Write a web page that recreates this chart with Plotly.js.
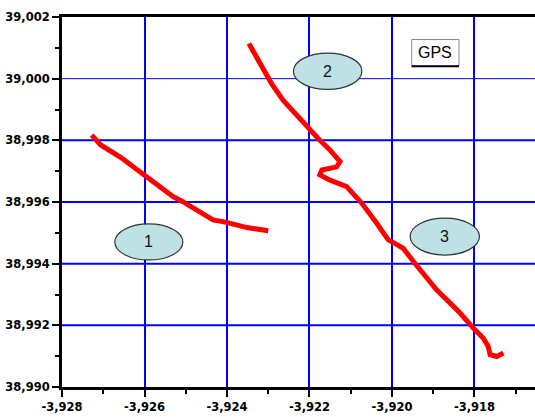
<!DOCTYPE html>
<html><head><meta charset="utf-8">
<script src="https://cdn.plot.ly/plotly-3.0.1.min.js"></script>
<style>html,body{margin:0;padding:0;background:#fff}#c{width:535px;height:417px}</style>
</head><body><div id="c"></div>
<script>
// Track 1
const t1x = [-3.92728,-3.92706,-3.92658,-3.92595,-3.9253,-3.92507,-3.92434,-3.92401,-3.92352,-3.923];
const t1y = [38.99817,38.99785,38.99745,38.99682,38.99617,38.99601,38.99542,38.99534,38.99517,38.99507];
// Track 2-3
const t2x = [-3.92347,-3.9232,-3.92292,-3.92264,-3.92231,-3.92199,-3.92179,-3.9215,-3.92126,-3.92134,-3.9217,-3.92175,-3.9215,-3.9211,-3.92073,-3.92037,-3.92009,-3.91993,-3.91973,-3.91948,-3.91924,-3.91892,-3.91859,-3.91835,-3.91803,-3.91779,-3.91767,-3.91762,-3.91746,-3.9173];
const t2y = [39.00114,39.00049,38.99984,38.9993,38.99882,38.99833,38.99806,38.99768,38.99731,38.99714,38.99704,38.99688,38.99671,38.9965,38.99596,38.99531,38.99477,38.99466,38.9945,38.99407,38.99369,38.99315,38.99272,38.9924,38.99191,38.99159,38.99132,38.99105,38.99099,38.9911];
// Ticks
const xTickVals = [-3.928,-3.926,-3.924,-3.922,-3.920,-3.918];
const xTickText = ['-3,928','-3,926','-3,924','-3,922','-3,920','-3,918'];
const yTickVals = [38.990,38.992,38.994,38.996,38.998,39.000,39.002];
const yTickText = ['38,990','38,992','38,994','38,996','38,998','39,000','39,002'];
// Labels
const labelText = ['1','2','3'];
const labelX0 = [-3.92672,-3.92239,-3.91956];
const labelX1 = [-3.92507,-3.92073,-3.91788];
const labelY0 = [38.99412,38.99965,38.99428];
const labelY1 = [38.99529,39.00083,38.99548];

const lineStyle = {color:'#ff0000', width:5};
const traces = [
  {x:t1x, y:t1y, mode:'lines', line:lineStyle, hoverinfo:'skip'},
  {x:t2x, y:t2y, mode:'lines', line:lineStyle, hoverinfo:'skip'}
];

const shapes = [];
for (let i=1;i<yTickVals.length-1;i++){
  const thin = Math.abs(yTickVals[i]-39.000) < 1e-9;
  shapes.push({type:'line', xref:'paper', x0:0, x1:1, yref:'y', y0:yTickVals[i], y1:yTickVals[i],
    line:{color:'#0000ff', width: thin ? 1 : 2}, layer:'below'});
}
// GPS box
shapes.push({type:'rect', xref:'paper', yref:'paper', x0:0.7393, x1:0.8393, y0:0.867, y1:0.9391, line:{color:'#888', width:1}, fillcolor:'#fff', layer:'below'});
shapes.push({type:'line', xref:'paper', yref:'paper', x0:0.7393, x1:0.8393, y0:0.867, y1:0.867, line:{color:'#000', width:2}});
const annotations = [
  {xref:'paper', yref:'paper', x:(0.7393+0.8393)/2, y:(0.867+0.9391)/2, xanchor:'center', yanchor:'middle', text:'GPS', showarrow:false,
   font:{family:'Liberation Sans, Arial', size:16, color:'#000'}}
];
for (let i=0;i<labelText.length;i++){
  shapes.push({type:'circle', xref:'x', yref:'y', x0:labelX0[i], x1:labelX1[i], y0:labelY0[i], y1:labelY1[i],
    fillcolor:'#bde1e4', line:{color:'#333', width:1.2}});
  annotations.push({x:(labelX0[i]+labelX1[i])/2, y:(labelY0[i]+labelY1[i])/2, xanchor:'center', yanchor:'middle', text:labelText[i], showarrow:false,
    font:{family:'Liberation Sans, Arial', size:16, color:'#111'}});
}

const bold = s => '<b>' + s + '</b>';
const tickFont = {family:'DejaVu Sans', size:11.5, color:'#000'};
const layout = {
  width:535, height:417,
  margin:{l:62, r:0, t:17, b:30},
  paper_bgcolor:'#fff', plot_bgcolor:'#fff',
  showlegend:false,
  xaxis:{range:[-3.928,-3.916533], tickmode:'array', tickvals:xTickVals, ticktext:xTickText.map(bold),
    showgrid:true, gridcolor:'#0000ff', gridwidth:2, zeroline:false,
    showline:true, linecolor:'#000', linewidth:3, mirror:true,
    ticks:'outside', ticklen:7, tickwidth:2, tickcolor:'#000', tickfont:tickFont,
    minor:{tickmode:'linear', tick0:-3.927, dtick:0.002, ticks:'outside', ticklen:4, tickwidth:2, tickcolor:'#000', showgrid:false}},
  yaxis:{range:[38.990,39.002], tickmode:'array', tickvals:yTickVals, ticktext:yTickText.map(bold),
    showgrid:false, zeroline:false,
    showline:true, linecolor:'#000', linewidth:3, mirror:false,
    ticks:'outside', ticklen:7, tickwidth:2, tickcolor:'#000', tickfont:tickFont,
    minor:{tickmode:'linear', tick0:38.991, dtick:0.002, ticks:'outside', ticklen:4, tickwidth:2, tickcolor:'#000', showgrid:false}},
  shapes:shapes, annotations:annotations
};
Plotly.newPlot('c', traces, layout, {staticPlot:true});
</script></body></html>
